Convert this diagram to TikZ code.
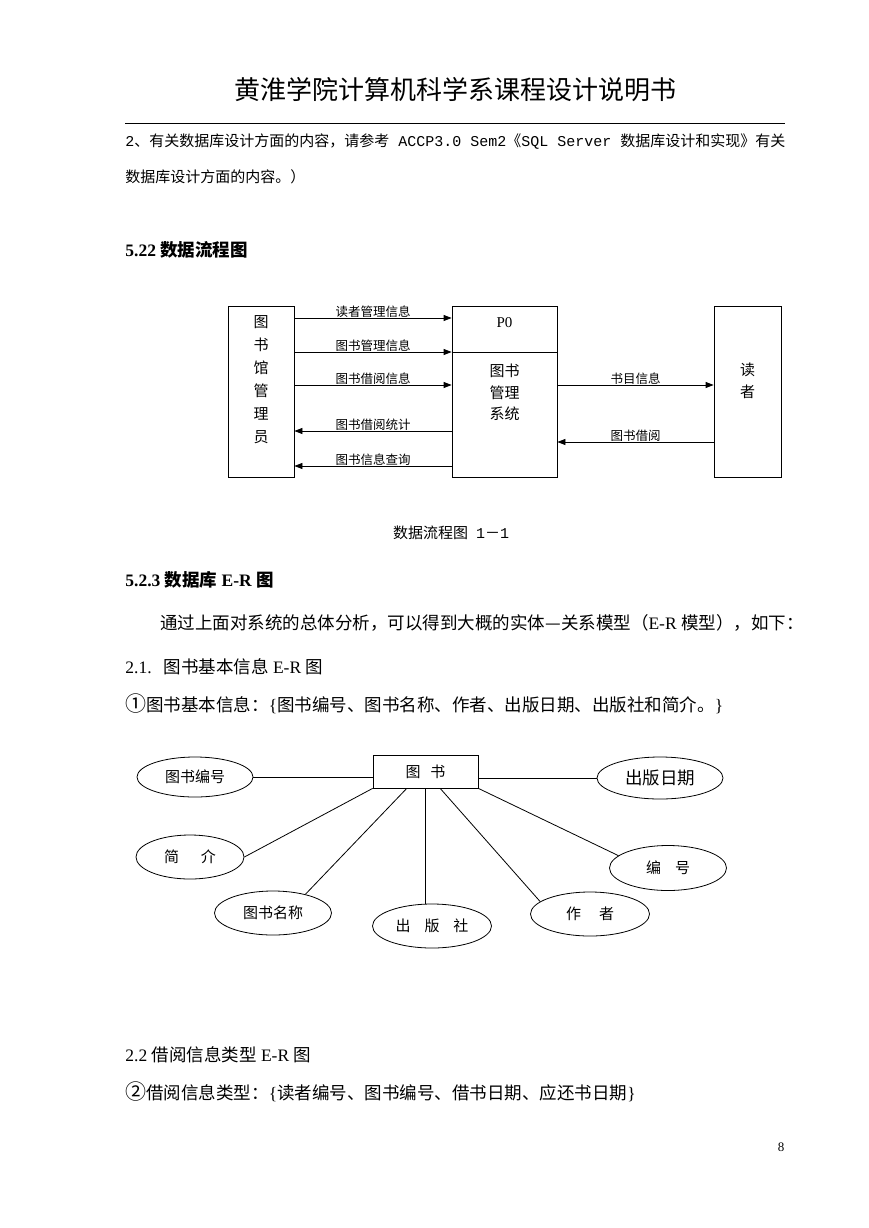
\documentclass[tikz,border=0pt]{standalone}
\usepackage{fontspec}
\setmainfont{Liberation Serif}
\setmonofont{Liberation Mono}
\newfontfamily\zh{Noto Sans CJK SC}
\usetikzlibrary{arrows.meta,shapes.geometric}

\begin{document}
\begin{tikzpicture}[x=1pt, y=-1pt, >={Triangle[length=8pt,width=6pt]}, line width=0.8pt,
    bodytxt/.style={anchor=west, inner sep=0pt, font=\fontsize{17.5}{17.5}\selectfont},
    headtxt/.style={anchor=west, inner sep=0pt, font=\fontsize{17.5}{17.5}\selectfont\bfseries},
    boxtxt/.style={inner sep=0pt, align=center, font=\zh\fontsize{15}{22}\selectfont},
    dfdbox/.style={draw, minimum height=171pt, inner sep=0pt},
    flowlab/.style={anchor=south, inner sep=0.5pt, font=\zh\fontsize{12.5}{12.5}\selectfont},
    entity/.style={draw, minimum width=105pt, minimum height=33pt, inner sep=0pt,
      font=\zh\fontsize{15}{15}\selectfont},
    attr/.style={draw, ellipse, inner sep=0pt, font=\zh\fontsize{15}{15}\selectfont}]
  \useasboundingbox (0,0) rectangle (869,1228);
  % ------------------------------------------------------------------ page head
  \node[inner sep=0pt, font=\zh\fontsize{26}{26}\selectfont] (title) at (455,90)
    {黄淮学院计算机科学系课程设计说明书};
  \draw (125,123) -- (785,123);
  \node[anchor=west, inner sep=0pt, font=\fontsize{15}{15}\selectfont] (ref1) at (125,142)
    {{\ttfamily 2}{\zh 、有关数据库设计方面的内容，请参考}{\ttfamily\ ACCP3.0 Sem2}{\zh 《}{\ttfamily SQL Server\ }{\zh 数据库设计和实现》有关}};
  \node[anchor=west, inner sep=0pt, font=\zh\fontsize{15}{15}\selectfont] (ref2) at (125,177)
    {数据库设计方面的内容。）};
  \node[headtxt] (sec1) at (125,250) {5.22 {\zh 数据流程图}};
  % ------------------------------------------------------------------ data flow diagram
  \node[dfdbox, minimum width=66pt] (lib) at (261,391.5) {};
  \node[dfdbox, minimum width=105pt] (sys) at (504.5,391.5) {};
  \node[dfdbox, minimum width=67pt] (rdr) at (747.5,391.5) {};
  \draw (sys.west |- 0,352) -- (sys.east |- 0,352);
  \node[boxtxt, font=\zh\fontsize{15}{23}\selectfont] (libtxt) at (261,379.5) {图\\书\\馆\\管\\理\\员};
  \node[inner sep=0pt, font=\fontsize{15}{15}\selectfont] (p0) at (504.5,323) {P0};
  \node[boxtxt, font=\zh\fontsize{15}{21.5}\selectfont] (systxt) at (504.5,392.5) {图书\\管理\\系统};
  \node[boxtxt] (rdrtxt) at (747.5,381) {读\\者};
  % flows into the system
  \foreach \y/\lab [count=\i] in {318/读者管理信息, 352/图书管理信息, 385/图书借阅信息} {
    \draw[->] (lib.east |- 0,\y) -- (sys.west |- 0,\y) node[midway, flowlab] (in\i) {\lab};
  }
  % flows back out
  \foreach \y/\lab [count=\i] in {431/图书借阅统计, 466/图书信息查询} {
    \draw[->] (sys.west |- 0,\y) -- (lib.east |- 0,\y) node[midway, flowlab] (out\i) {\lab};
  }
  \draw[->] (sys.east |- 0,385) -- (rdr.west |- 0,385) node[midway, flowlab] (toreader) {书目信息};
  \draw[->] (rdr.west |- 0,442) -- (sys.east |- 0,442) node[midway, flowlab] (fromreader) {图书借阅};
  \node[inner sep=0pt, font=\fontsize{15}{15}\selectfont] (cap1) at (451,533)
    {{\zh 数据流程图}\hspace{8pt}{\ttfamily 1}{\zh －}{\ttfamily 1}};
  % ------------------------------------------------------------------ E-R text
  \node[headtxt] (sec2) at (125,580) {5.2.3 {\zh 数据库} E-R {\zh 图}};
  \node[bodytxt] (intro) at (160,623)
    {{\zh 通过上面对系统的总体分析，可以得到大概的实体—关系模型（}E-R {\zh 模型），如下：}};
  \node[bodytxt] (sub1) at (125,667) {2.1.\hspace{12pt}{\zh 图书基本信息} E-R {\zh 图}};
  \node[bodytxt] (item1) at (125,704)
    {{\zh\fontsize{21}{17.5}\selectfont ①}{\zh 图书基本信息：}\{{\zh 图书编号、图书名称、作者、出版日期、出版社和简介。}\}};
  % ------------------------------------------------------------------ E-R diagram
  \node[entity] (book) at (425.5,771.5) {图\hspace{10pt}书};
  % name / x / y / width / height / text
  \foreach \nm/\x/\y/\w/\h/\lab in {
      bh/195/777/116/40/图书编号, jj/190/857/108/44/简\hspace{22pt}介,
      mc/273/913/117/44/图书名称, cbs/432/926/119/44/出\hspace{14pt}版\hspace{14pt}社,
      zz/590/914/119/44/作\hspace{18pt}者\hspace{24pt}, bh2/668/868/117/45/编\hspace{14pt}号,
      rq/660/778/126/42/{\fontsize{17.5}{17.5}\selectfont 出版日期}} {
    \node[attr, minimum width=\w pt, minimum height=\h pt] (\nm) at (\x,\y) {\lab};
  }
  \draw (bh.east) -- (bh.east -| book.west);
  \draw (book.east |- rq.west) -- (rq.west);
  \draw (book.south west) -- (jj.east);
  \draw (book.222) -- (mc.30);
  \draw (book.south) -- (book.south |- cbs.north);
  \draw (book.311) -- (zz.166);
  \draw (book.south east) -- (bh2.166);
  % ------------------------------------------------------------------ next section
  \node[bodytxt] (sub2) at (125,1055) {2.2 {\zh 借阅信息类型} E-R {\zh 图}};
  \node[bodytxt] (item2) at (125,1092)
    {{\zh\fontsize{21}{17.5}\selectfont ②}{\zh 借阅信息类型：}\{{\zh 读者编号、图书编号、借书日期、应还书日期}\}};
  \node[inner sep=0pt, font=\fontsize{13}{13}\selectfont] (pgno) at (781,1147) {8};
\end{tikzpicture}
\end{document}
